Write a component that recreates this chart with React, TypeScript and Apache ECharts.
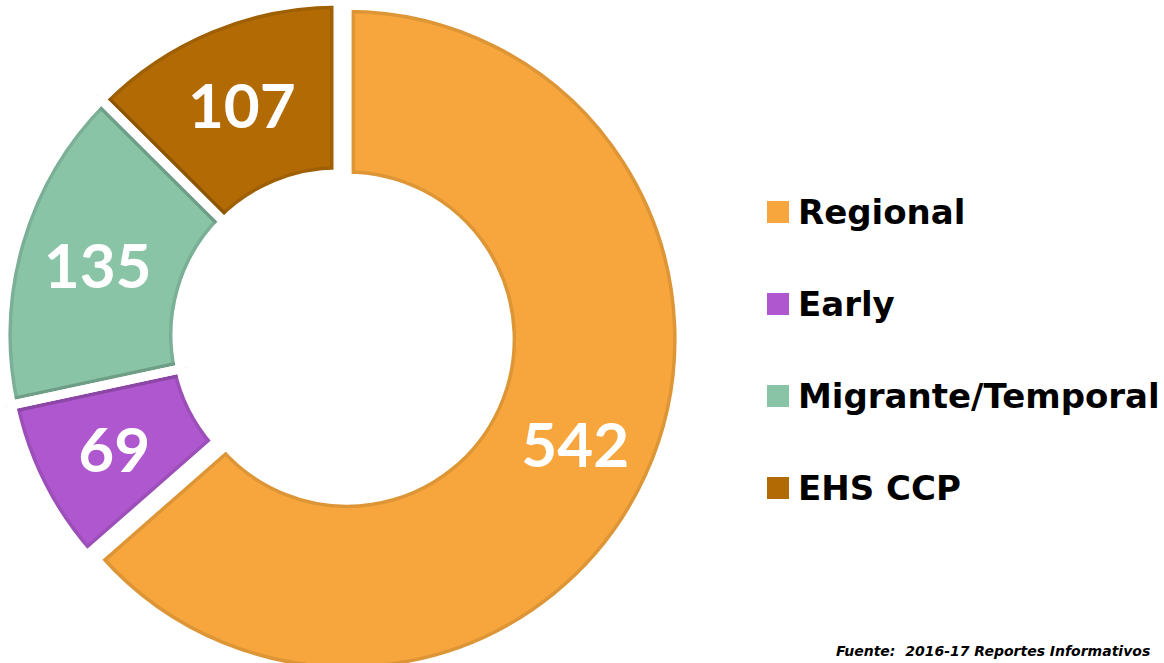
import React, { useEffect, useRef } from "react";
import * as echarts from "echarts";

const categories = ["Regional", "Early", "Migrante/Temporal", "EHS CCP"];
const values = [542, 69, 135, 107];
const fillColors = ["#F6A63C", "#AE57CE", "#89C4A7", "#B26A04"];
const footerText = "Fuente:  2016-17 Reportes Informativos";

const CENTER = [338, 335];
const R_IN = 161;
const R_OUT = 334;
const EXPLODE = 10;

export default function App() {
  const ref = useRef<HTMLDivElement>(null);

  useEffect(() => {
    if (!ref.current) return;
    const chart = echarts.init(ref.current, undefined, { renderer: "svg" });

    const base = (name: string, z: number, radius: number[], offset = EXPLODE) => ({
      type: "pie",
      name,
      z,
      center: CENTER,
      radius,
      startAngle: 90,
      clockwise: true,
      selectedMode: "single",
      selectedOffset: offset,
      silent: true,
      avoidLabelOverlap: false,
      emphasis: { disabled: true },
      label: { show: false },
      labelLine: { show: false },
    });

    const items = (style: (i: number) => any) =>
      categories.map((n, i) => ({
        name: n,
        value: values[i],
        selected: i === 0,
        itemStyle: style(i),
        select: { itemStyle: style(i) },
      }));

    const option: any = {
      animation: false,
      backgroundColor: "#ffffff",
      legend: {
        orient: "vertical",
        left: 767,
        top: 195,
        padding: 0,
        icon: "rect",
        itemWidth: 22,
        itemHeight: 22,
        itemGap: 58,
        selectedMode: false,
        data: categories,
        textStyle: {
          fontFamily: "DejaVu Sans",
          fontWeight: "bold",
          fontSize: 34,
          color: "#000000",
          padding: [0, 0, 0, 4],
        },
      },
      graphic: [
        {
          type: "text",
          left: 836,
          top: 644,
          style: {
            text: footerText,
            font: "italic bold 14px 'DejaVu Sans'",
            fill: "#000000",
          },
        },
      ],
      series: [
        {
          ...base("fill", 1, [R_IN, R_OUT]),
          data: items((i) => ({ color: fillColors[i], borderWidth: 0 })),
        },
        {
          ...base("ring", 2, [R_IN, R_OUT]),
          data: items(() => ({
            color: "rgba(0,0,0,0)",
            borderColor: "rgba(0,0,0,0.1)",
            borderWidth: 16,
            borderJoin: "round",
          })),
        },
        {
          ...base("coverOut", 3, [R_OUT + 4, R_OUT + 24]),
          data: items(() => ({ color: "#ffffff", borderWidth: 0 })),
        },
        {
          ...base("coverIn", 3, [R_IN - 24, R_IN - 4]),
          data: items(() => ({ color: "#ffffff", borderWidth: 0 })),
        },
        {
          ...base("coverGap", 3, [R_IN - 30, R_OUT + 30], EXPLODE / 2),
          data: items((i) =>
            i === 0
              ? { color: "rgba(0,0,0,0)", borderColor: "#ffffff", borderWidth: 15 }
              : { color: "rgba(0,0,0,0)", borderWidth: 0 }
          ),
        },
        {
          ...base("gap", 4, [R_IN, R_OUT]),
          data: items(() => ({
            color: "rgba(0,0,0,0)",
            borderColor: "#ffffff",
            borderWidth: 9,
          })),
          label: {
            show: true,
            position: "inside",
            formatter: "{c}",
            color: "#ffffff",
            fontFamily: "Lato",
            fontWeight: "bold",
            fontSize: 62,
          },
        },
      ],
    };

    chart.setOption(option);
    return () => chart.dispose();
  }, []);

  return (
    <div
      ref={ref}
      style={{ position: "fixed", left: 0, top: 0, width: 1164, height: 663 }}
    />
  );
}
